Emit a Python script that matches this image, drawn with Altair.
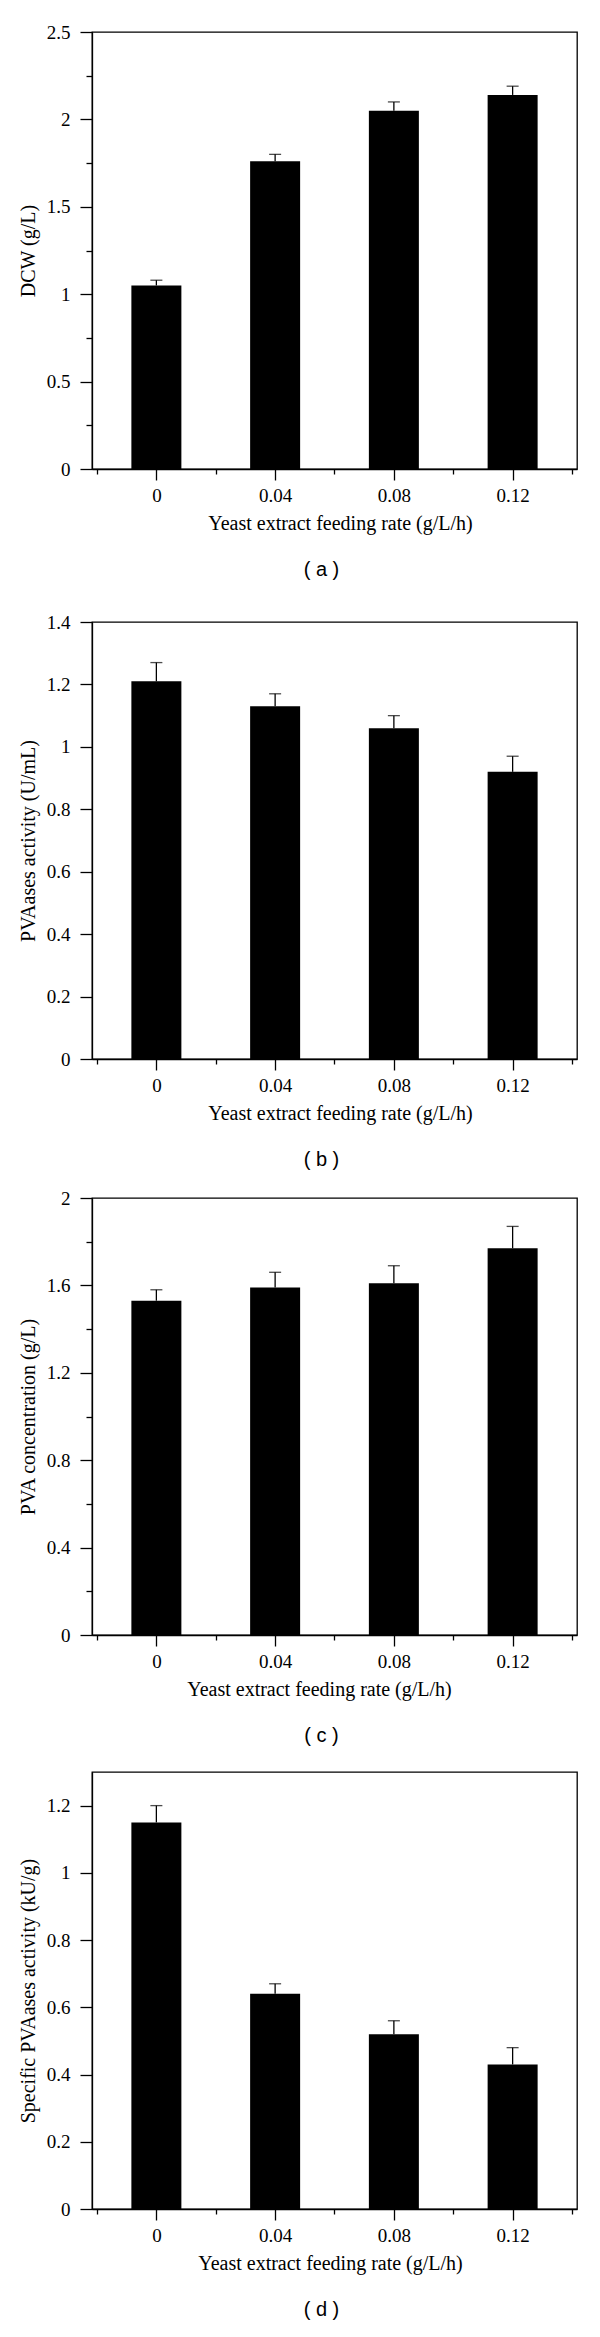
import altair as alt
import pandas as pd

# Yeast extract feeding rate (g/L/h)
rates = [0, 0.04, 0.08, 0.12]

# (a) DCW (g/L)
dcw = [1.05, 1.76, 2.05, 2.14]
dcw_err = [0.03, 0.04, 0.05, 0.05]

# (b) PVAases activity (U/mL)
activity = [1.21, 1.13, 1.06, 0.92]
activity_err = [0.06, 0.04, 0.04, 0.05]

# (c) PVA concentration (g/L)
pva = [1.53, 1.59, 1.61, 1.77]
pva_err = [0.05, 0.07, 0.08, 0.10]

# (d) Specific PVAases activity (kU/g)
specific = [1.15, 0.64, 0.52, 0.43]
specific_err = [0.05, 0.03, 0.04, 0.05]

SERIF = "Liberation Serif"
SANS = "Liberation Sans"
W = 485
H = 437


def panel(values, errors, ytitle, ymax, major, minor, caption, xtitle_x):
    df = pd.DataFrame({"rate": rates, "value": values, "err": errors})
    base = alt.Chart(df).transform_calculate(top="datum.value + datum.err")

    n_y = int(round(ymax / minor))
    yticks = [round(i * minor, 4) for i in range(n_y + 1)]
    xticks = [round(-0.02 + i * 0.02, 4) for i in range(9)]

    ytest = f"abs(datum.value / {major} - round(datum.value / {major})) < 0.001"
    xtest = ("datum.value > -0.001 && datum.value < 0.13 && "
             "abs(datum.value / 0.04 - round(datum.value / 0.04)) < 0.001")

    xscale = alt.Scale(domain=[-0.02, 0.14], nice=False, zero=False)
    yscale = alt.Scale(domain=[0, ymax], nice=False, zero=True)

    xaxis = alt.Axis(
        values=xticks,
        title="Yeast extract feeding rate (g/L/h)",
        labelExpr=f"({xtest}) ? format(datum.value, '~g') : ''",
        tickSize={"condition": {"test": xtest, "value": 11}, "value": 5},
        labelPadding=6,
        titlePadding=8,
        titleX=xtitle_x,
    )
    yaxis = alt.Axis(
        values=yticks,
        title=ytitle,
        labelExpr=f"({ytest}) ? format(datum.value, '~g') : ''",
        tickSize={"condition": {"test": ytest, "value": 12}, "value": 6},
        labelPadding=10,
        titlePadding=8,
    )

    bars = base.mark_bar(size=50, color="black").encode(
        x=alt.X("rate:Q", scale=xscale, axis=xaxis),
        y=alt.Y("value:Q", scale=yscale, axis=yaxis),
    )
    rule = base.mark_rule(color="black", strokeWidth=1.3).encode(
        x="rate:Q",
        y="value:Q",
        y2="top:Q",
    )
    cap = base.mark_tick(orient="horizontal", size=12, thickness=1.3, color="black").encode(
        x="rate:Q",
        y="top:Q",
    )
    return alt.layer(bars, rule, cap).properties(
        width=W,
        height=H,
        title=alt.TitleParams(
            caption, orient="bottom", font=SANS, fontSize=20,
            fontWeight="normal", offset=27, dx=-13, color="black",
        ),
    )


pa = panel(dcw, dcw_err, "DCW (g/L)", 2.5, 0.5, 0.25, "( a )", 248)
pb = panel(activity, activity_err, "PVAases activity (U/mL)", 1.4, 0.2, 0.1, "( b )", 248)
pc = panel(pva, pva_err, "PVA concentration (g/L)", 2.0, 0.4, 0.2, "( c )", 227)
pd_ = panel(specific, specific_err, "Specific PVAases activity (kU/g)", 1.3, 0.2, 0.1, "( d )", 238)

chart = alt.vconcat(
    pa,
    alt.vconcat(pb, alt.vconcat(pc, pd_, spacing=24), spacing=17),
    spacing=31,
).properties(
    padding={"left": 9, "top": 14, "right": 5, "bottom": 5},
    background="white",
).configure_view(
    stroke="black", strokeWidth=1.3
).configure_axis(
    labelFont=SERIF, labelFontSize=19, labelColor="black",
    titleFont=SERIF, titleFontSize=20, titleFontWeight="normal", titleColor="black",
    domainColor="black", domainWidth=1.3, tickColor="black", tickWidth=1.3,
    grid=False,
)

chart.save("out.html", embed_options={"renderer": "svg", "actions": False})
